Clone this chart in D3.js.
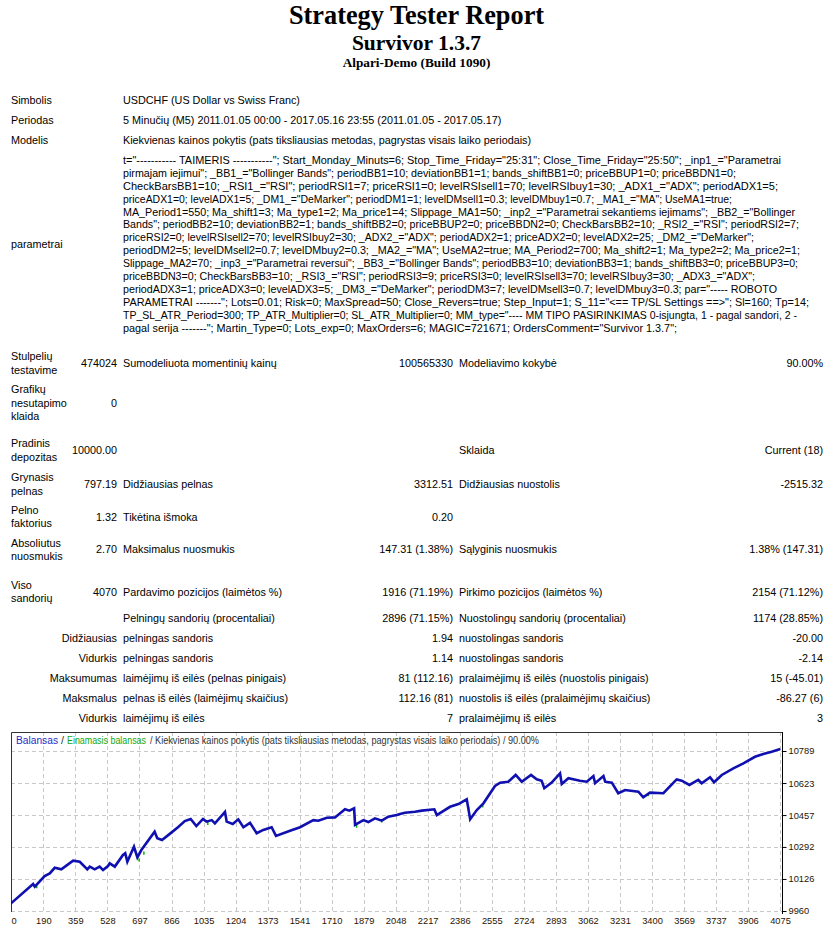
<!DOCTYPE html>
<html>
<head>
<meta charset="utf-8">
<script src="https://cdn.jsdelivr.net/npm/d3@7"></script>
<style>
    body { margin: 0; background: #fff; }
    svg text { font-family: "Liberation Sans", Arial, sans-serif; }
</style>
</head>
<body>
<div id="report"></div>
<script>
// ---- report texts ----
var titleText = "Strategy Tester Report";
var expertName = "Survivor 1.3.7";
var serverName = "Alpari-Demo (Build 1090)";

var infoLabels = ["Simbolis", "Periodas", "Modelis"];
var infoValues = [
    "USDCHF (US Dollar vs Swiss Franc)",
    "5 Minučių (M5) 2011.01.05 00:00 - 2017.05.16 23:55 (2011.01.05 - 2017.05.17)",
    "Kiekvienas kainos pokytis (pats tiksliausias metodas, pagrystas visais laiko periodais)"
];

var paramLabel = "parametrai";
var paramLines = [
    't="----------- TAIMERIS -----------"; Start_Monday_Minuts=6; Stop_Time_Friday="25:31"; Close_Time_Friday="25:50"; _inp1_="Parametrai',
    'pirmajam iejimui"; _BB1_="Bollinger Bands"; periodBB1=10; deviationBB1=1; bands_shiftBB1=0; priceBBUP1=0; priceBBDN1=0;',
    'CheckBarsBB1=10; _RSI1_="RSI"; periodRSI1=7; priceRSI1=0; levelRSIsell1=70; levelRSIbuy1=30; _ADX1_="ADX"; periodADX1=5;',
    'priceADX1=0; levelADX1=5; _DM1_="DeMarker"; periodDM1=1; levelDMsell1=0.3; levelDMbuy1=0.7; _MA1_="MA"; UseMA1=true;',
    'MA_Period1=550; Ma_shift1=3; Ma_type1=2; Ma_price1=4; Slippage_MA1=50; _inp2_="Parametrai sekantiems iejimams"; _BB2_="Bollinger',
    'Bands"; periodBB2=10; deviationBB2=1; bands_shiftBB2=0; priceBBUP2=0; priceBBDN2=0; CheckBarsBB2=10; _RSI2_="RSI"; periodRSI2=7;',
    'priceRSI2=0; levelRSIsell2=70; levelRSIbuy2=30; _ADX2_="ADX"; periodADX2=1; priceADX2=0; levelADX2=25; _DM2_="DeMarker";',
    'periodDM2=5; levelDMsell2=0.7; levelDMbuy2=0.3; _MA2_="MA"; UseMA2=true; MA_Period2=700; Ma_shift2=1; Ma_type2=2; Ma_price2=1;',
    'Slippage_MA2=70; _inp3_="Parametrai reversui"; _BB3_="Bollinger Bands"; periodBB3=10; deviationBB3=1; bands_shiftBB3=0; priceBBUP3=0;',
    'priceBBDN3=0; CheckBarsBB3=10; _RSI3_="RSI"; periodRSI3=9; priceRSI3=0; levelRSIsell3=70; levelRSIbuy3=30; _ADX3_="ADX";',
    'periodADX3=1; priceADX3=0; levelADX3=5; _DM3_="DeMarker"; periodDM3=7; levelDMsell3=0.7; levelDMbuy3=0.3; par="----- ROBOTO',
    'PARAMETRAI -------"; Lots=0.01; Risk=0; MaxSpread=50; Close_Revers=true; Step_Input=1; S_11="<== TP/SL Settings ==>"; Sl=160; Tp=14;',
    'TP_SL_ATR_Period=300; TP_ATR_Multiplier=0; SL_ATR_Multiplier=0; MM_type="---- MM TIPO PASIRINKIMAS 0-isjungta, 1 - pagal sandori, 2 -',
    'pagal serija -------"; Martin_Type=0; Lots_exp=0; MaxOrders=6; MAGIC=721671; OrdersComment="Survivor 1.3.7";'
];

// [label lines, value, label, value, label, value]
var statRows = [
    [["Stulpelių", "testavime"], "474024", "Sumodeliuota momentinių kainų", "100565330", "Modeliavimo kokybė", "90.00%"],
    [["Grafikų", "nesutapimo", "klaida"], "0", "", "", "", ""],
    [["Pradinis", "depozitas"], "10000.00", "", "", "Sklaida", "Current (18)"],
    [["Grynasis", "pelnas"], "797.19", "Didžiausias pelnas", "3312.51", "Didžiausias nuostolis", "-2515.32"],
    [["Pelno", "faktorius"], "1.32", "Tikėtina išmoka", "0.20", "", ""],
    [["Absoliutus", "nuosmukis"], "2.70", "Maksimalus nuosmukis", "147.31 (1.38%)", "Sąlyginis nuosmukis", "1.38% (147.31)"],
    [["Viso", "sandorių"], "4070", "Pardavimo pozicijos (laimėtos %)", "1916 (71.19%)", "Pirkimo pozicijos (laimėtos %)", "2154 (71.12%)"],
    [[], "", "Pelningų sandorių (procentaliai)", "2896 (71.15%)", "Nuostolingų sandorių (procentaliai)", "1174 (28.85%)"],
    [[], "Didžiausias", "pelningas sandoris", "1.94", "nuostolingas sandoris", "-20.00"],
    [[], "Vidurkis", "pelningas sandoris", "1.14", "nuostolingas sandoris", "-2.14"],
    [[], "Maksumumas", "laimėjimų iš eilės (pelnas pinigais)", "81 (112.16)", "pralaimėjimų iš eilės (nuostolis pinigais)", "15 (-45.01)"],
    [[], "Maksmalus", "pelnas iš eilės (laimėjimų skaičius)", "112.16 (81)", "nuostolis iš eilės (pralaimėjimų skaičius)", "-86.27 (6)"],
    [[], "Vidurkis", "laimėjimų iš eilės", "7", "pralaimėjimų iš eilės", "3"]
];

// ---- chart data ----
var legendParts = ["Balansas", "/", "Einamasis balansas", "/ Kiekvienas kainos pokytis (pats tiksliausias metodas, pagrystas visais laiko periodais) / 90.00%"];

var xTickValues = [0, 190, 359, 528, 697, 866, 1035, 1204, 1373, 1541, 1710, 1879, 2048, 2217, 2386, 2555, 2724, 2893, 3062, 3231, 3400, 3569, 3737, 3906, 4075];
var yTickValues = [9960, 10126, 10292, 10457, 10623, 10789];

var tradeNo = [
    20, 136, 145, 197, 224, 250, 285, 347, 382, 422,
    435, 461, 487, 505, 531, 540, 567, 610, 622, 633,
    668, 686, 707, 777, 791, 816, 865, 900, 936, 967,
    997, 1032, 1050, 1078, 1095, 1148, 1157, 1189, 1218, 1245,
    1280, 1315, 1350, 1394, 1417, 1491, 1544, 1614, 1640, 1685,
    1728, 1781, 1804, 1829, 1834, 1878, 1904, 1939, 1975, 2009,
    2054, 2071, 2097, 2150, 2186, 2252, 2265, 2335, 2379, 2423,
    2441, 2476, 2511, 2572, 2599, 2642, 2681, 2713, 2762, 2792,
    2818, 2832, 2871, 2915, 2924, 2959, 3020, 3056, 3091, 3100,
    3144, 3153, 3188, 3222, 3258, 3328, 3354, 3389, 3460, 3530,
    3557, 3597, 3644, 3662, 3706, 3727, 3768, 3829, 3882, 3943,
    3987, 4031, 4070
];
var balance = [
    10000, 10100, 10086, 10141, 10155, 10184, 10176, 10221, 10215, 10176,
    10190, 10176, 10190, 10172, 10193, 10207, 10190, 10250, 10259, 10215,
    10293, 10238, 10276, 10371, 10337, 10328, 10366, 10394, 10426, 10437,
    10400, 10437, 10423, 10431, 10414, 10474, 10423, 10411, 10435, 10394,
    10417, 10363, 10380, 10394, 10349, 10376, 10394, 10431, 10428, 10443,
    10445, 10487, 10480, 10492, 10406, 10431, 10421, 10440, 10428, 10449,
    10457, 10463, 10469, 10474, 10480, 10487, 10457, 10500, 10514, 10539,
    10435, 10483, 10518, 10608, 10625, 10630, 10665, 10630, 10665, 10642,
    10635, 10596, 10625, 10673, 10618, 10648, 10635, 10630, 10659, 10622,
    10659, 10630, 10625, 10570, 10587, 10578, 10549, 10573, 10570, 10642,
    10635, 10613, 10639, 10622, 10653, 10627, 10665, 10699, 10725, 10759,
    10773, 10785, 10797
];
// equity dips below balance (trade, high, low)
var equityTrade = [150, 690, 715, 1052, 1837, 1969, 2428, 2502, 3375];
var equityHigh = [10092, 10232, 10268, 10423, 10406, 10431, 10500, 10510, 10566];
var equityLow = [10078, 10216, 10252, 10405, 10391, 10418, 10482, 10497, 10555];

// ---- layout ----
var W = 829, H = 928;
var svg = d3.select("#report").append("svg").attr("width", W).attr("height", H);

var bodyFont = 10.8;
var colLabelX = 11, colVal1 = 117, colLbl2 = 123, colVal2 = 453, colLbl3 = 459, colVal3 = 823;

// header
var serif = "'Liberation Serif', 'Times New Roman', serif";
svg.append("text").attr("x", 416.5).attr("y", 24).attr("text-anchor", "middle")
    .style("font-family", serif).style("font-weight", "bold").style("fill", "#000")
    .style("font-size", "26.3px").text(titleText);
svg.append("text").attr("x", 416.5).attr("y", 50).attr("text-anchor", "middle")
    .style("font-family", serif).style("font-weight", "bold").style("fill", "#000")
    .style("font-size", "21.5px").text(expertName);
svg.append("text").attr("x", 416.5).attr("y", 66.5).attr("text-anchor", "middle")
    .style("font-family", serif).style("font-weight", "bold").style("fill", "#000")
    .style("font-size", "13.3px").text(serverName);

function bodyText(x, y, str, anchor) {
    return svg.append("text").attr("x", x).attr("y", y).attr("dy", "0.36em")
        .attr("text-anchor", anchor || "start").style("fill", "#000")
        .style("font-size", bodyFont + "px").text(str);
}

var infoY = [100, 120, 140];
infoLabels.forEach(function (l, i) {
    bodyText(colLabelX, infoY[i], l);
    bodyText(colLbl2, infoY[i], infoValues[i]);
});

// parameters block, wrapped as in the report
var paramTop = 160, paramStep = 12.92;
var paramRight = [781, 736, 778, 732, 795, 799, 754, 800, 798, 755, 777, 809, 797, 677];
paramLines.forEach(function (l, i) {
    bodyText(colLbl2, paramTop + i * paramStep, l)
        .attr("textLength", paramRight[i] - colLbl2).attr("lengthAdjust", "spacingAndGlyphs");
});
bodyText(colLabelX, paramTop + (paramLines.length - 1) * paramStep / 2, paramLabel);

// statistics
var rowY = [363, 402.7, 450, 484, 516.7, 549.3, 591.7, 618.3, 638.3, 658.3, 678.3, 698.3, 718.3];
var lineGap = 13.3;
statRows.forEach(function (r, i) {
    var y = rowY[i];
    var n = r[0].length;
    r[0].forEach(function (l, j) {
        bodyText(colLabelX, y + (j - (n - 1) / 2) * lineGap, l);
    });
    if (r[1]) bodyText(colVal1, y, r[1], "end");
    if (r[2]) bodyText(colLbl2, y, r[2]);
    if (r[3]) bodyText(colVal2, y, r[3], "end");
    if (r[4]) bodyText(colLbl3, y, r[4]);
    if (r[5]) bodyText(colVal3, y, r[5], "end");
});

// ---- balance chart ----
var box = { left: 11, top: 732, right: 782, bottom: 912 };
var x = d3.scaleLinear().domain([0, 4075]).range([7.3, 780]);
var y = d3.scaleLinear().domain([9960, 10789]).range([911, 751]);

var chart = svg.append("g").attr("class", "balance-chart");
chart.append("defs").append("clipPath").attr("id", "plot-clip")
    .append("rect").attr("x", box.left).attr("y", box.top)
    .attr("width", box.right - box.left).attr("height", box.bottom - box.top);

// grid
chart.append("g").selectAll("line").data(xTickValues.filter(function (d) { return d > 0; }))
    .enter().append("line")
    .attr("x1", function (d) { return Math.round(x(d)) + 0.5; })
    .attr("x2", function (d) { return Math.round(x(d)) + 0.5; })
    .attr("y1", box.top).attr("y2", box.bottom)
    .attr("stroke", "#c8c8c8").attr("stroke-dasharray", "4,3");
chart.append("g").selectAll("line").data(yTickValues)
    .enter().append("line")
    .attr("x1", box.left).attr("x2", box.right)
    .attr("y1", function (d) { return Math.round(y(d)) + 0.5; })
    .attr("y2", function (d) { return Math.round(y(d)) + 0.5; })
    .attr("stroke", "#c8c8c8").attr("stroke-dasharray", "4,3");

// frame (left, top) and right axis
chart.append("path")
    .attr("d", "M" + (box.left + 0.5) + "," + box.bottom + "V" + (box.top + 0.5) + "H" + (box.right + 0.5))
    .attr("fill", "none").attr("stroke", "#333");

var axisColor = "#2a1400";
var yAxis = d3.axisRight(y).tickValues(yTickValues).tickSize(4).tickPadding(2).tickFormat(d3.format("d"));
var yAxisG = chart.append("g").attr("transform", "translate(" + (box.right + 0.5) + ",0)").call(yAxis);
yAxisG.select(".domain").attr("d", "M0," + box.top + "V" + (box.bottom + 2)).attr("stroke", "#000");
yAxisG.selectAll("text").style("font-size", "9.3px").style("font-family", "'Liberation Sans', Arial, sans-serif")
    .style("fill", axisColor);

var xAxis = d3.axisBottom(x).tickValues(xTickValues).tickSize(0).tickPadding(5).tickFormat(d3.format("d"));
var xAxisG = chart.append("g").attr("transform", "translate(0," + box.bottom + ")").call(xAxis);
xAxisG.select(".domain").remove();
xAxisG.selectAll("text").style("font-size", "9.3px").style("font-family", "'Liberation Sans', Arial, sans-serif")
    .style("fill", axisColor);
// first label sits against the frame
xAxisG.selectAll(".tick").filter(function (d) { return d === 0; })
    .attr("transform", "translate(" + (box.left + 3) + ",0)");

// equity marks and balance line
var plot = chart.append("g").attr("clip-path", "url(#plot-clip)");
plot.selectAll("line.eq").data(equityTrade).enter().append("line").attr("class", "eq")
    .attr("x1", function (d) { return x(d) + 1; }).attr("x2", function (d) { return x(d) + 1; })
    .attr("y1", function (d, i) { return y(equityHigh[i]); })
    .attr("y2", function (d, i) { return y(equityLow[i]); })
    .attr("stroke", "#00b400").attr("stroke-width", 1.5);

var pts = tradeNo.map(function (t, i) { return [t, balance[i]]; });
var line = d3.line().x(function (d) { return x(d[0]); }).y(function (d) { return y(d[1]); });
plot.append("path").datum(pts).attr("d", line)
    .attr("fill", "none").attr("stroke", "#1010b0").attr("stroke-width", 2.6)
    .attr("stroke-linejoin", "miter").attr("stroke-linecap", "square");

// legend: separate pieces so they do not run into each other
var legendColors = ["#2828c8", "#333", "#12a812", "#333"];
var legendX = [16, 61, 67, 150];
var legendLen = [42, 3, 79, 389];
chart.append("g").selectAll("text").data(legendParts).enter().append("text")
    .attr("x", function (d, i) { return legendX[i]; }).attr("y", 744)
    .style("fill", function (d, i) { return legendColors[i]; })
    .style("font-size", "10px")
    .attr("textLength", function (d, i) { return legendLen[i]; })
    .attr("lengthAdjust", "spacingAndGlyphs")
    .text(function (d) { return d; });
</script>
</body>
</html>
